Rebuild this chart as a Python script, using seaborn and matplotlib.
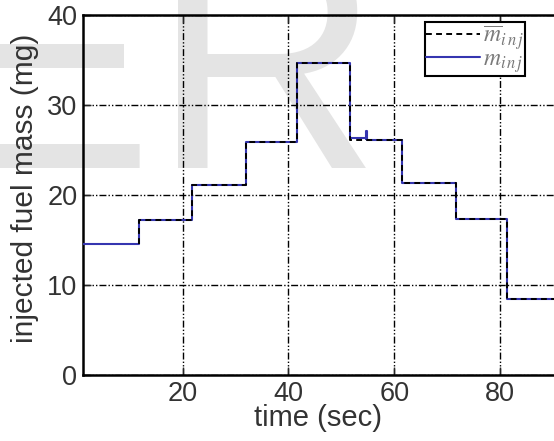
import matplotlib
matplotlib.use("Agg")
import matplotlib.pyplot as plt
import seaborn as sns
import pandas as pd

# ---- data ----
time_actual = [1.2, 11.7, 21.8, 32.0, 41.6, 51.7, 54.6, 54.7, 54.85, 61.5, 71.7, 81.3, 100.0]
mass_actual = [14.55, 17.2, 21.1, 25.9, 34.7, 26.3, 26.2, 27.1, 26.1, 21.3, 17.3, 8.5, 8.5]
time_mean = [11.7, 11.7, 21.8, 32.0, 41.6, 51.7, 61.5, 71.7, 81.3, 100.0]
mass_mean = [14.55, 17.2, 21.1, 25.9, 34.7, 26.1, 21.3, 17.3, 8.5, 8.5]
x_ticks = [20, 40, 60, 80]
y_ticks = [0, 10, 20, 30, 40]
x_label = "time (sec)"
y_label = "injected fuel mass (mg)"
label_mean = r"$\overline{m}_{i\,n\,j}$"
label_actual = r"$m_{i\,n\,j}$"

sns.set_style("ticks")
plt.rcParams["font.family"] = ["Liberation Sans", "DejaVu Sans"]
plt.rcParams["mathtext.fontset"] = "stix"

df_act = pd.DataFrame({"t": time_actual, "m": mass_actual})
df_mean = pd.DataFrame({"t": time_mean, "m": mass_mean})

fig = plt.figure(figsize=(5.54, 4.41), dpi=100)
W, H = 554, 441
ax = fig.add_axes([83 / W, (H - 375) / H, (606 - 83) / W, 360 / H])
ax.patch.set_alpha(0)

# watermark
wm = "#e4e4e4"
fig.text(153 / W, 1 - 168 / H, "E", fontsize=228, color=wm, ha="right",
         va="baseline", zorder=-5, family="Liberation Sans")
fig.text(152 / W, 1 - 168 / H, "R", fontsize=228, color=wm, ha="left",
         va="baseline", zorder=-5, family="Liberation Sans")

sns.lineplot(data=df_act, x="t", y="m", ax=ax, sort=False, estimator=None,
             drawstyle="steps-post", color="#3535b0", lw=1.5, label=label_actual,
             zorder=3)
sns.lineplot(data=df_mean, x="t", y="m", ax=ax, sort=False, estimator=None,
             drawstyle="steps-post", color="black", lw=1.4,
             linestyle=(0, (3.0, 2.2)), label=label_mean, zorder=4)

ax.set_xlim(1.2, 100)
ax.set_ylim(0, 40)
ax.set_xticks(x_ticks)
ax.set_yticks(y_ticks)
ax.grid(True, color="black", lw=1.0, linestyle=(0, (5, 1.5, 1, 1.5, 1, 1.5)))
ax.set_axisbelow(True)

for s in ax.spines.values():
    s.set_linewidth(1.8)
    s.set_color("black")

ax.tick_params(direction="in", length=6, width=1.0, top=True, right=True,
               labelsize=19.5, labelcolor="#333333", pad=4)

ax.set_xlabel(x_label, fontsize=21, color="#333333")
ax.set_ylabel(y_label, fontsize=21.5, color="#333333")
ax.xaxis.set_label_coords((318 - 83) / 523, -(418 - 375) / 360, transform=ax.transAxes)
ax.yaxis.set_label_coords(-(83 - 25) / 523, (375 - 188) / 360, transform=ax.transAxes)
ax.xaxis.label.set_va("center")
ax.yaxis.label.set_va("center")

handles, labels = ax.get_legend_handles_labels()
order = [1, 0]
leg = ax.legend([handles[i] for i in order], [labels[i] for i in order],
                loc="upper left", bbox_to_anchor=((425 - 83) / 523, (375 - 22) / 360),
                borderaxespad=0, fancybox=False, framealpha=1, edgecolor="black",
                fontsize=17, handlelength=2.3, handletextpad=0.1,
                borderpad=0.05, labelspacing=-0.15, labelcolor="#7a7a7a")
leg.get_frame().set_linewidth(1.5)

fig.savefig("out.png", dpi=100)
